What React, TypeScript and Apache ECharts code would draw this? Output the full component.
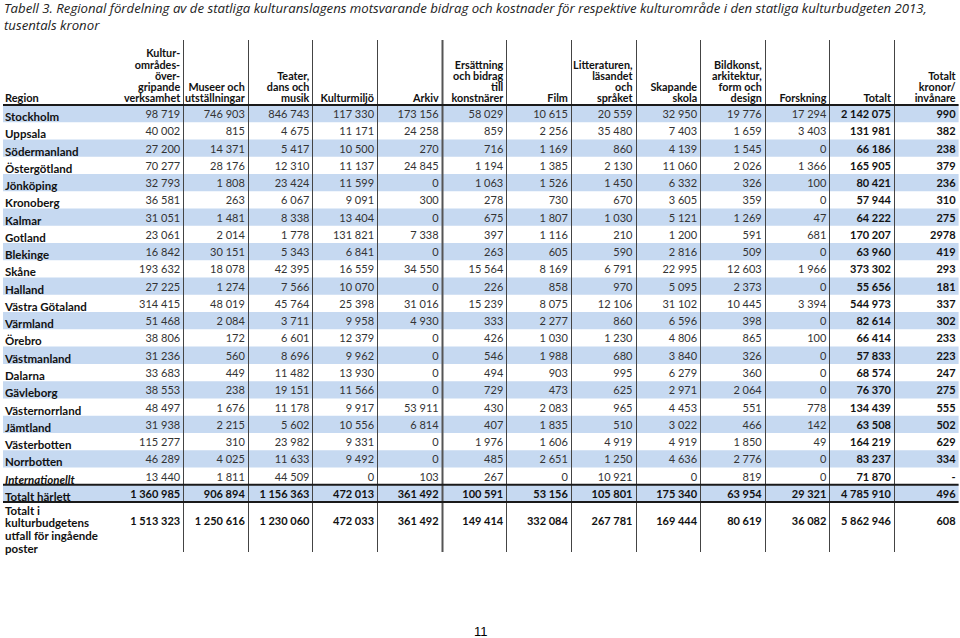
import React, { useEffect, useRef } from "react";
import * as echarts from "echarts";

const titleLine1 =
  "Tabell 3. Regional fördelning av de statliga kulturanslagens motsvarande bidrag och kostnader för respektive kulturområde i den statliga kulturbudgeten 2013,";
const titleLine2 = "tusentals kronor";

const regionHeader = "Region";

const regions = [
  "Stockholm", "Uppsala", "Södermanland", "Östergötland", "Jönköping", "Kronoberg",
  "Kalmar", "Gotland", "Blekinge", "Skåne", "Halland", "Västra Götaland", "Värmland",
  "Örebro", "Västmanland", "Dalarna", "Gävleborg", "Västernorrland", "Jämtland",
  "Västerbotten", "Norrbotten", "Internationellt", "Totalt härlett",
  "Totalt i\nkulturbudgetens\nutfall för ingående\nposter",
];

const columnHeaders = [
  "Kultur-\nområdes-\növer-\ngripande\nverksamhet",
  "Museer och\nutställningar",
  "Teater,\ndans och\nmusik",
  "Kulturmiljö",
  "Arkiv",
  "Ersättning\noch bidrag\ntill\nkonstnärer",
  "Film",
  "Litteraturen,\nläsandet\noch\nspråket",
  "Skapande\nskola",
  "Bildkonst,\narkitektur,\nform och\ndesign",
  "Forskning",
  "Totalt",
  "Totalt\nkronor/\ninvånare",
];

const kulturOvergripande = [98719, 40002, 27200, 70277, 32793, 36581, 31051, 23061, 16842, 193632, 27225, 314415, 51468, 38806, 31236, 33683, 38553, 48497, 31938, 115277, 46289, 13440, 1360985, 1513323];
const museer = [746903, 815, 14371, 28176, 1808, 263, 1481, 2014, 30151, 18078, 1274, 48019, 2084, 172, 560, 449, 238, 1676, 2215, 310, 4025, 1811, 906894, 1250616];
const teater = [846743, 4675, 5417, 12310, 23424, 6067, 8338, 1778, 5343, 42395, 7566, 45764, 3711, 6601, 8696, 11482, 19151, 11178, 5602, 23982, 11633, 44509, 1156363, 1230060];
const kulturmiljo = [117330, 11171, 10500, 11137, 11599, 9091, 13404, 131821, 6841, 16559, 10070, 25398, 9958, 12379, 9962, 13930, 11566, 9917, 10556, 9331, 9492, 0, 472013, 472033];
const arkiv = [173156, 24258, 270, 24845, 0, 300, 0, 7338, 0, 34550, 0, 31016, 4930, 0, 0, 0, 0, 53911, 6814, 0, 0, 103, 361492, 361492];
const ersattning = [58029, 859, 716, 1194, 1063, 278, 675, 397, 263, 15564, 226, 15239, 333, 426, 546, 494, 729, 430, 407, 1976, 485, 267, 100591, 149414];
const film = [10615, 2256, 1169, 1385, 1526, 730, 1807, 1116, 605, 8169, 858, 8075, 2277, 1030, 1988, 903, 473, 2083, 1835, 1606, 2651, 0, 53156, 332084];
const litteratur = [20559, 35480, 860, 2130, 1450, 670, 1030, 210, 590, 6791, 970, 12106, 860, 1230, 680, 995, 625, 965, 510, 4919, 1250, 10921, 105801, 267781];
const skapandeSkola = [32950, 7403, 4139, 11060, 6332, 3605, 5121, 1200, 2816, 22995, 5095, 31102, 6596, 4806, 3840, 6279, 2971, 4453, 3022, 4919, 4636, 0, 175340, 169444];
const bildkonst = [19776, 1659, 1545, 2026, 326, 359, 1269, 591, 509, 12603, 2373, 10445, 398, 865, 326, 360, 2064, 551, 466, 1850, 2776, 819, 63954, 80619];
const forskning = [17294, 3403, 0, 1366, 100, 0, 47, 681, 0, 1966, 0, 3394, 0, 100, 0, 0, 0, 778, 142, 49, 0, 0, 29321, 36082];
const totalt = [2142075, 131981, 66186, 165905, 80421, 57944, 64222, 170207, 63960, 373302, 55656, 544973, 82614, 66414, 57833, 68574, 76370, 134439, 63508, 164219, 83237, 71870, 4785910, 5862946];
const kronorPerInvanare: (number | null)[] = [990, 382, 238, 379, 236, 310, 275, 2978, 419, 293, 181, 337, 302, 233, 223, 247, 275, 555, 502, 629, 334, null, 496, 608];

const columns: (number | null)[][] = [
  kulturOvergripande, museer, teater, kulturmiljo, arkiv, ersattning, film,
  litteratur, skapandeSkola, bildkonst, forskning, totalt, kronorPerInvanare,
];

const FONT = "Lato, 'Open Sans', sans-serif";
const TITLE_FONT = "'Open Sans', Lato, sans-serif";
const X_MIN = -1.788;
const X_MAX = 13;
const Y_MIN = -3.766;
const Y_MAX = 25.9;
const BLUE = "#c6d9f1";

function fmt(v: number | null, col: number): string {
  if (v === null || v === undefined) return "-";
  if (col === 12) return String(v);
  return String(v).replace(/\B(?=(\d{3})+(?!\d))/g, " ");
}

function rowCenter(r: number): number {
  return r < 23 ? r + 0.5 : 24.05;
}

export default function App() {
  const ref = useRef<HTMLDivElement>(null);
  useEffect(() => {
    if (!ref.current) return;
    const chart = echarts.init(ref.current, undefined, { renderer: "svg" });

    const nRows = regions.length;
    const bandData: number[][] = [];
    for (let r = 0; r < 23; r++) if (r % 2 === 0) bandData.push([0, r]);

    const cellData: number[][] = [];
    for (let c = 0; c < columns.length; c++)
      for (let r = 0; r < nRows; r++) cellData.push([c, r]);

    const rowData: number[][] = regions.map((_, r) => [0, r]);
    const headerData: number[][] = columnHeaders.map((_, c) => [c, 0]);
    const vLineData: number[][] = [];
    for (let k = 1; k <= 12; k++) vLineData.push([k, 0]);
    const hLineData: number[][] = [[0, 0], [0, 22], [0, 23]];

    const titleStyle = {
      fontFamily: TITLE_FONT,
      fontStyle: "italic",
      fontWeight: "normal",
      fontSize: 13.2,
      color: "#222",
    };

    const option: any = {
      animation: false,
      backgroundColor: "#ffffff",
      title: [
        { text: titleLine1, left: 4, top: 1, padding: 0, textStyle: titleStyle },
        { text: titleLine2, left: 4, top: 18, padding: 0, textStyle: titleStyle },
      ],
      graphic: [
        {
          type: "text",
          left: 474,
          top: 625,
          style: { text: "11", fontSize: 13, fontFamily: "'Liberation Sans', sans-serif", fill: "#000" },
        },
      ],
      grid: { left: 3, right: 1.4, top: 40, bottom: 86 },
      xAxis: { type: "value", min: X_MIN, max: X_MAX, show: false },
      yAxis: { type: "value", min: Y_MIN, max: Y_MAX, inverse: true, show: false },
      series: [
        {
          type: "custom",
          name: "bands",
          data: bandData,
          z: 1,
          clip: false,
          renderItem: (params: any, api: any) => {
            const r = api.value(1);
            const p1 = api.coord([X_MIN, r]);
            const p2 = api.coord([X_MAX, r + 1]);
            return {
              type: "rect",
              shape: { x: p1[0], y: p1[1], width: p2[0] - p1[0], height: p2[1] - p1[1] },
              style: { fill: BLUE },
            };
          },
        },
        {
          type: "custom",
          name: "vlines",
          data: vLineData,
          z: 2,
          clip: false,
          renderItem: (params: any, api: any) => {
            const k = api.value(0);
            const p1 = api.coord([k, Y_MIN]);
            const p2 = api.coord([k, Y_MAX]);
            const x = Math.round(p1[0]) + 0.5;
            return {
              type: "line",
              shape: { x1: x, y1: p1[1], x2: x, y2: p2[1] },
              style: { stroke: k === 5 ? "#555" : "#444", lineWidth: k === 5 ? 2 : 1 },
            };
          },
        },
        {
          type: "custom",
          name: "hlines",
          data: hLineData,
          z: 3,
          clip: false,
          renderItem: (params: any, api: any) => {
            const r = api.value(1);
            const p1 = api.coord([X_MIN, r]);
            const p2 = api.coord([X_MAX, r]);
            return {
              type: "line",
              shape: { x1: p1[0], y1: p1[1], x2: p2[0], y2: p2[1] },
              style: { stroke: "#1a1a1a", lineWidth: 2 },
            };
          },
        },
        {
          type: "custom",
          name: "headers",
          data: headerData,
          z: 4,
          clip: false,
          renderItem: (params: any, api: any) => {
            const c = api.value(0);
            const p = api.coord([c + 1, -0.1]);
            const children: any[] = [
              {
                type: "text",
                x: p[0] - 3,
                y: p[1],
                style: {
                  text: columnHeaders[c],
                  align: "right",
                  verticalAlign: "bottom",
                  fontFamily: FONT,
                  fontWeight: "bold",
                  fontSize: 10.8,
                  lineHeight: 11.2,
                  fill: "#111",
                },
              },
            ];
            if (c === 0) {
              const q = api.coord([X_MIN, -0.1]);
              children.push({
                type: "text",
                x: q[0] + 2,
                y: q[1],
                style: {
                  text: regionHeader,
                  align: "left",
                  verticalAlign: "bottom",
                  fontFamily: FONT,
                  fontWeight: "bold",
                  fontSize: 11,
                  lineHeight: 11.2,
                  fill: "#111",
                },
              });
            }
            return { type: "group", children };
          },
        },
        {
          type: "custom",
          name: "regions",
          data: rowData,
          z: 4,
          clip: false,
          renderItem: (params: any, api: any) => {
            const r = api.value(1);
            if (r < 23) {
              const p = api.coord([X_MIN, rowCenter(r)]);
              return {
                type: "text",
                x: p[0] + 2,
                y: p[1] + 3,
                style: {
                  text: regions[r],
                  align: "left",
                  verticalAlign: "middle",
                  fontFamily: FONT,
                  fontWeight: "bold",
                  fontStyle: r === 21 ? "italic" : "normal",
                  fontSize: 11.5,
                  fill: "#111",
                },
              };
            }
            const p = api.coord([X_MIN, r]);
            return {
              type: "text",
              x: p[0] + 2,
              y: p[1] + 2,
              style: {
                text: regions[r],
                align: "left",
                verticalAlign: "top",
                fontFamily: FONT,
                fontWeight: "bold",
                fontSize: 11.5,
                lineHeight: 12.7,
                fill: "#111",
              },
            };
          },
        },
        {
          type: "custom",
          name: "cells",
          data: cellData,
          z: 5,
          clip: false,
          renderItem: (params: any, api: any) => {
            const c = api.value(0);
            const r = api.value(1);
            const p = api.coord([c + 1, rowCenter(r)]);
            const bold = c >= 11 || r >= 22;
            return {
              type: "text",
              x: p[0] - 3,
              y: p[1],
              style: {
                text: fmt(columns[c][r], c),
                align: "right",
                verticalAlign: "middle",
                fontFamily: FONT,
                fontWeight: bold ? "bold" : "normal",
                fontSize: 11,
                fill: bold ? "#111" : "#333",
              },
            };
          },
        },
      ],
    };
    chart.setOption(option);
    return () => chart.dispose();
  }, []);

  return (
    <div
      ref={ref}
      style={{ position: "fixed", left: 0, top: 0, width: 960, height: 638, background: "#fff" }}
    />
  );
}
